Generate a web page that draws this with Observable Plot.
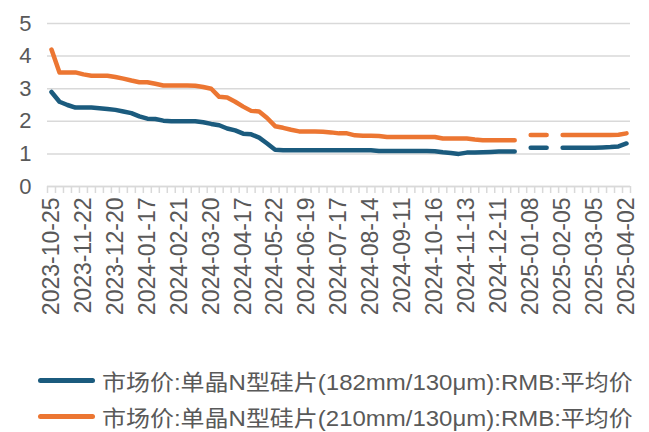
<!DOCTYPE html>
<html><head><meta charset="utf-8">
<script src="https://cdn.jsdelivr.net/npm/d3@7"></script>
<script src="https://cdn.jsdelivr.net/npm/@observablehq/plot@0.6"></script>
<style>
body{margin:0;background:#fff;font-family:"Liberation Sans",Arial,"Noto Sans CJK SC",sans-serif;}
#wrap{position:relative;width:649px;height:432px;overflow:hidden;}
#legend{position:absolute;left:38px;top:362px;}
.row{display:flex;align-items:center;height:36px;white-space:nowrap;}
.sw{width:57px;height:5px;border-radius:3px;margin-right:7px;flex:none;}
.lt{display:inline-block;font-size:22px;color:#595959;transform:scaleX(1.09);transform-origin:left center;font-family:"Liberation Sans",Arial,"Noto Sans CJK SC",sans-serif;}
</style></head><body>
<div id="wrap"><div id="chart"></div><div id="legend"></div></div>
<script>
const dates = ["2023-10-25","2023-11-01","2023-11-08","2023-11-15","2023-11-22","2023-11-29","2023-12-06","2023-12-13","2023-12-20","2023-12-27",
"2024-01-03","2024-01-10","2024-01-17","2024-01-24","2024-01-31","2024-02-07","2024-02-21","2024-02-28","2024-03-06","2024-03-13",
"2024-03-20","2024-03-27","2024-04-03","2024-04-10","2024-04-17","2024-04-24","2024-05-08","2024-05-15","2024-05-22","2024-05-29",
"2024-06-05","2024-06-12","2024-06-19","2024-06-26","2024-07-03","2024-07-10","2024-07-17","2024-07-24","2024-07-31","2024-08-07",
"2024-08-14","2024-08-21","2024-08-28","2024-09-04","2024-09-11","2024-09-18","2024-09-25","2024-10-09","2024-10-16","2024-10-23",
"2024-10-30","2024-11-06","2024-11-13","2024-11-20","2024-11-27","2024-12-04","2024-12-11","2024-12-18","2024-12-25","2025-01-01",
"2025-01-08","2025-01-15","2025-01-22","2025-01-29","2025-02-05","2025-02-12","2025-02-19","2025-02-26","2025-03-05","2025-03-12",
"2025-03-19","2025-03-26","2025-04-02"];
const wafer182 = [2.90,2.60,2.50,2.42,2.42,2.42,2.40,2.38,2.35,2.30,
2.25,2.15,2.08,2.07,2.02,2.00,2.00,2.00,2.00,1.97,
1.92,1.88,1.78,1.72,1.62,1.60,1.50,1.32,1.13,1.11,
1.11,1.11,1.11,1.11,1.11,1.11,1.11,1.11,1.11,1.11,
1.11,1.09,1.09,1.09,1.09,1.09,1.09,1.09,1.08,1.05,
1.03,1.00,1.04,1.04,1.05,1.06,1.07,1.07,1.07,null,
1.19,1.19,1.19,null,1.19,1.19,1.19,1.19,1.19,1.20,
1.21,1.23,1.32];
const wafer210 = [4.20,3.50,3.50,3.50,3.44,3.40,3.40,3.40,3.36,3.31,
3.25,3.20,3.20,3.15,3.10,3.10,3.10,3.10,3.09,3.05,
3.00,2.75,2.73,2.60,2.45,2.32,2.30,2.10,1.85,1.80,
1.74,1.69,1.69,1.69,1.68,1.66,1.63,1.63,1.57,1.56,
1.56,1.55,1.52,1.52,1.52,1.52,1.52,1.52,1.52,1.47,
1.47,1.47,1.47,1.44,1.42,1.42,1.42,1.42,1.42,null,
1.58,1.58,1.58,null,1.58,1.58,1.58,1.58,1.58,1.58,
1.58,1.59,1.63];
const seriesNames = ["市场价:单晶N型硅片(182mm/130μm):RMB:平均价","市场价:单晶N型硅片(210mm/130μm):RMB:平均价"];
const seriesColors = ["#1B5B7E","#EC7632"];
const yTicks = [0,1,2,3,4,5];
const labelEvery = 4;

const idx = dates.map((d,i)=>i);
const labelIdx = idx.filter(i => i % labelEvery === 0);
const bounds = d3.range(dates.length + 1).map(i => i - 0.5);
const grid = "#D9D9D9";

const chart = Plot.plot({
  width: 649, height: 350,
  marginLeft: 47, marginRight: 19, marginTop: 23, marginBottom: 164,
  style: {color:"#595959", fontFamily:'"Liberation Sans",Arial,sans-serif', background:"#fff"},
  x: {type:"linear", domain:[-0.5, dates.length - 0.5]},
  y: {domain:[0,5]},
  marks: [
    Plot.gridY(yTicks, {stroke: grid, strokeOpacity: 1, strokeWidth: 1.5}),
    Plot.ruleY([0], {stroke: grid, strokeWidth: 1.5}),
    Plot.axisX(bounds, {tickSize: 7, tickFormat: () => "", stroke: grid, strokeWidth: 1.5, strokeOpacity: 1, label: null}),
    Plot.axisX(labelIdx, {tickSize: 0, tickPadding: 11, tickRotate: -90, tickFormat: i => dates[i], fontSize: 23, fill: "#595959", label: null}),
    Plot.axisY(yTicks, {tickSize: 0, tickPadding: 16, fontSize: 22, fill: "#595959", label: null}),
    Plot.line(wafer182, {x: (d,i) => i, y: d => d, stroke: seriesColors[0], strokeWidth: 4.5, strokeLinecap: "round", strokeLinejoin: "round"}),
    Plot.line(wafer210, {x: (d,i) => i, y: d => d, stroke: seriesColors[1], strokeWidth: 4.5, strokeLinecap: "round", strokeLinejoin: "round"})
  ]
});
document.getElementById("chart").appendChild(chart);

const legend = document.getElementById("legend");
seriesNames.forEach((n,k) => {
  const r = document.createElement("div"); r.className = "row";
  const s = document.createElement("div"); s.className = "sw"; s.style.background = seriesColors[k];
  const t = document.createElement("span"); t.className = "lt"; t.textContent = n;
  r.appendChild(s); r.appendChild(t); legend.appendChild(r);
});
</script></body></html>
